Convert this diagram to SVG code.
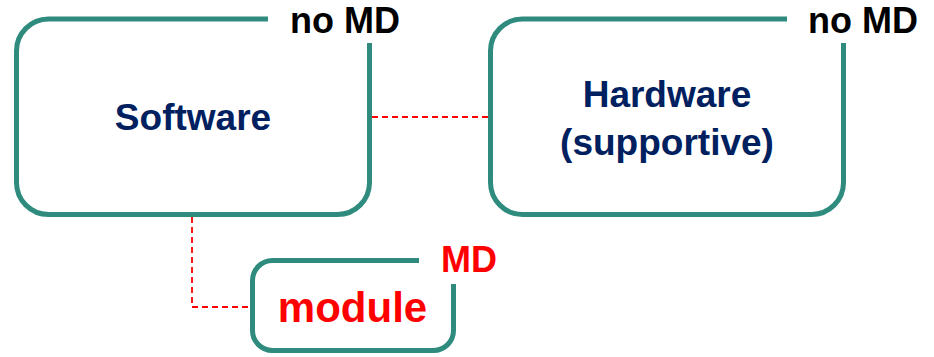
<svg xmlns="http://www.w3.org/2000/svg" width="934" height="357" viewBox="0 0 934 357">
  <style>
    .box { fill: none; stroke: #2E8B7E; stroke-width: 5; stroke-linecap: butt; }
    .link { fill: none; stroke: #FF0000; stroke-width: 1.8; stroke-dasharray: 6 4; }
    .title { font-family: "Liberation Sans", Arial, sans-serif; font-weight: bold; font-size: 37px; fill: #002060; text-anchor: middle; }
    .tag { font-family: "Liberation Sans", Arial, sans-serif; font-weight: bold; font-size: 36px; fill: #000000; }
    .red { fill: #FF0000; }
  </style>
  <rect width="934" height="357" fill="#FFFFFF"/>

  <g id="connectors">
    <path class="link" d="M372 117 H488"/>
    <path class="link" d="M192 217 V307 H250"/>
  </g>

  <g id="software">
    <path class="box" d="M268 19 H48.5 A32 32 0 0 0 16.5 51 V182.5 A32 32 0 0 0 48.5 214.5 H337.5 A32 32 0 0 0 369.5 182.5 V43"/>
    <text class="title" x="193" y="130">Software</text>
    <text class="tag" x="290" y="33">no MD</text>
  </g>

  <g id="hardware">
    <path class="box" d="M787 19 H522.5 A32 32 0 0 0 490.5 51 V182.5 A32 32 0 0 0 522.5 214.5 H811.5 A32 32 0 0 0 843.5 182.5 V43"/>
    <text class="title" x="667" y="107">Hardware</text>
    <text class="title" x="667" y="155">(supportive)</text>
    <text class="tag" x="808" y="33">no MD</text>
  </g>

  <g id="module">
    <path class="box" d="M419 260.5 H272.5 A20 20 0 0 0 252.5 280.5 V330.5 A20 20 0 0 0 272.5 350.5 H433.5 A20 20 0 0 0 453.5 330.5 V284"/>
    <text class="title red" x="352.5" y="322" style="font-size:42px">module</text>
    <text class="tag red" x="441" y="272">MD</text>
  </g>
</svg>
